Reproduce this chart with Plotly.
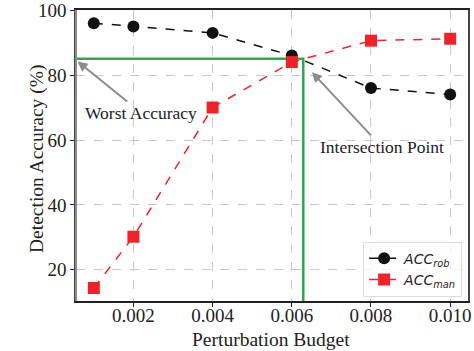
import plotly.graph_objects as go

budget = [0.001, 0.002, 0.004, 0.006, 0.008, 0.010]
acc_rob = [96, 95, 93, 86, 76, 74]
acc_man = [14.4, 30.2, 70, 84, 90.6, 91.2]
x_ticks = [0.002, 0.004, 0.006, 0.008, 0.010]
x_tick_labels = ["0.002", "0.004", "0.006", "0.008", "0.010"]
y_ticks = [20, 40, 60, 80, 100]
worst_acc = 85
cross_x = 0.00629
x_range = [0.00055, 0.01045]
y_range = [10.4, 100.05]

SERIF = "Liberation Serif"
fig = go.Figure()

# green guide lines
fig.add_trace(go.Scatter(x=[x_range[0], cross_x, cross_x], y=[worst_acc, worst_acc, y_range[0]],
                         mode="lines", line=dict(color="#2ea84e", width=2.5),
                         showlegend=False, hoverinfo="skip"))

fig.add_trace(go.Scatter(x=budget, y=acc_rob, mode="lines+markers", name="<i>ACC<sub>rob</sub></i>",
                         line=dict(color="#111111", width=1.5, dash="dash"),
                         marker=dict(symbol="circle", size=12, color="#111111")))
fig.add_trace(go.Scatter(x=budget, y=acc_man, mode="lines+markers", name="<i>ACC<sub>man</sub></i>",
                         line=dict(color="#ee2229", width=1.5, dash="dash"),
                         marker=dict(symbol="square", size=12, color="#ee2229")))

fig.update_layout(
    width=474, height=351,
    margin=dict(l=76, r=6, t=10, b=50, autoexpand=False),
    plot_bgcolor="white", paper_bgcolor="white",
    font=dict(family=SERIF, size=19, color="#222222"),
    legend=dict(x=0.985, y=0.015, xanchor="right", yanchor="bottom",
                bgcolor="rgba(255,255,255,0.8)", bordercolor="#dddddd", borderwidth=1,
                font=dict(family="DejaVu Sans", size=14, color="#222222"),
                tracegroupgap=0, itemwidth=30),
    annotations=[
        dict(x=0.00059, y=84.2, ax=0.00220, ay=68.3, xref="x", yref="y", axref="x", ayref="y",
             text="Worst Accuracy", showarrow=True, arrowhead=2, arrowsize=1, arrowwidth=2,
             arrowcolor="#8c8c8c", font=dict(family=SERIF, size=17.5, color="#222222")),
        dict(x=0.00651, y=80.9, ax=0.00827, ay=57.9, xref="x", yref="y", axref="x", ayref="y",
             text="Intersection Point", showarrow=True, arrowhead=2, arrowsize=1, arrowwidth=2,
             arrowcolor="#8c8c8c", font=dict(family=SERIF, size=17.5, color="#222222")),
        dict(x=0.497, y=-0.134, xref="paper", yref="paper", xanchor="center", yanchor="middle",
             text="Perturbation Budget", showarrow=False,
             font=dict(family=SERIF, size=19.5, color="#222222")),
        dict(x=-0.0995, y=0.488, xref="paper", yref="paper", xanchor="center", yanchor="middle",
             text="Detection Accuracy (%)", showarrow=False, textangle=-90,
             font=dict(family=SERIF, size=19.5, color="#222222")),
    ],
    shapes=[dict(type="line", xref="paper", yref="paper", x0=0, x1=0, y0=0, y1=1,
                 line=dict(color="#8c8c8c", width=2))],
)
fig.update_xaxes(range=x_range, tickvals=x_ticks, ticktext=x_tick_labels, automargin=False,
                 showgrid=True, gridcolor="#c8c8c8", griddash="dash", gridwidth=1,
                 showline=True, linecolor="#222222", linewidth=1.5, mirror=True,
                 ticks="outside", ticklen=4, tickcolor="#222222", zeroline=False,
                 ticklabeloverflow="allow", ticklabelstandoff=-8)
fig.update_yaxes(range=y_range, tickvals=y_ticks, automargin=False,
                 showgrid=True, gridcolor="#c8c8c8", griddash="dash", gridwidth=1,
                 showline=True, linecolor="#444444", linewidth=1.5, mirror=True,
                 ticks="outside", ticklen=4, tickcolor="#222222", zeroline=False,
                 ticklabeloverflow="allow")

# remove the page's default 8px body margin so the figure fills the window exactly
fig.write_html("out.html", config={"displayModeBar": False},
               post_script="document.body.style.margin='0';document.body.style.overflow='hidden';")
